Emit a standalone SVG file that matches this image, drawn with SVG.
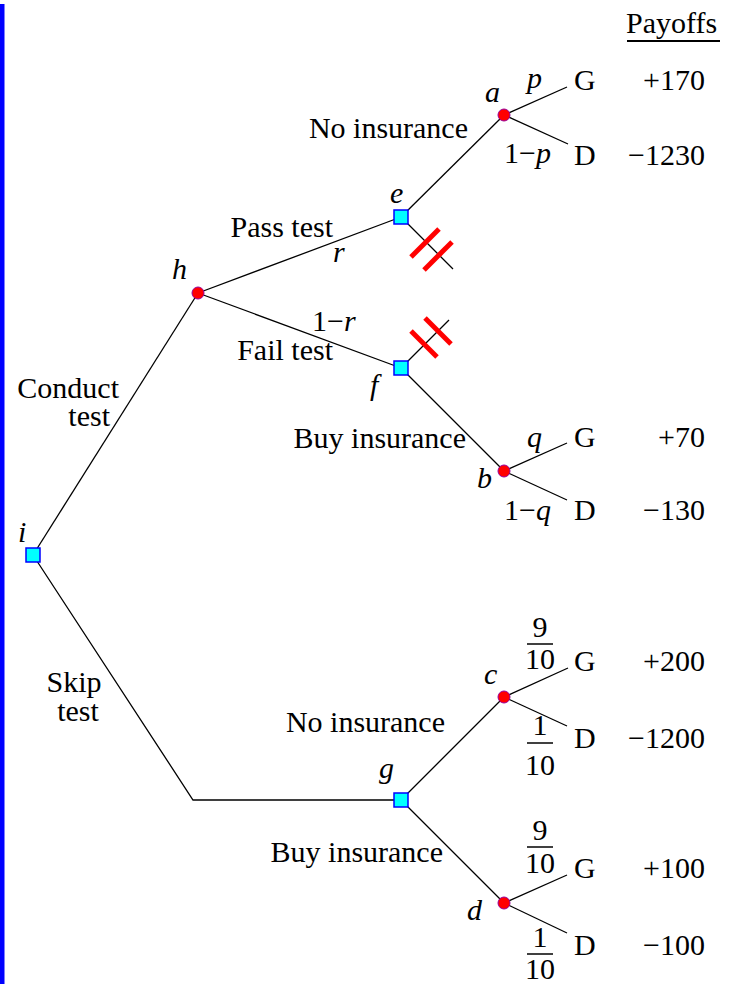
<svg xmlns="http://www.w3.org/2000/svg" width="729" height="984" viewBox="0 0 729 984">
<style>
text{font-family:"Liberation Serif","Times New Roman",serif;font-size:30px;fill:#000}
.it{font-style:italic}
.e{text-anchor:end}
.m{text-anchor:middle}
.ln{stroke:#000;stroke-width:1.3;fill:none}
.sq{fill:#00FFFF;stroke:#0000FF;stroke-width:1.5}
.ci{fill:#FF0000;stroke:#990099;stroke-width:1}
.cut{stroke:#FF0000;stroke-width:5;stroke-linecap:butt}
.fr{stroke:#000;stroke-width:1.5}
</style>
<rect width="729" height="984" fill="#fff"/>
<rect x="0" y="4" width="4.5" height="980" fill="#0000FF"/>
<g id="connectors">
<line class="ln" x1="33" y1="555" x2="198" y2="293"/>
<polyline class="ln" points="33,555 193,800 401,800"/>
<line class="ln" x1="198" y1="293" x2="401" y2="217"/>
<line class="ln" x1="198" y1="293" x2="401" y2="368"/>
<line class="ln" x1="401" y1="217" x2="504" y2="115"/>
<line class="ln" x1="401" y1="217" x2="453" y2="269"/>
<line class="ln" x1="401" y1="368" x2="449" y2="320"/>
<line class="ln" x1="401" y1="368" x2="504" y2="471"/>
<line class="ln" x1="401" y1="800" x2="504" y2="697"/>
<line class="ln" x1="401" y1="800" x2="504" y2="903"/>
<line class="ln" x1="504" y1="115" x2="567" y2="87"/>
<line class="ln" x1="504" y1="115" x2="568" y2="144"/>
<line class="ln" x1="504" y1="471" x2="567" y2="443"/>
<line class="ln" x1="504" y1="471" x2="567" y2="500"/>
<line class="ln" x1="504" y1="697" x2="568" y2="668"/>
<line class="ln" x1="504" y1="697" x2="567" y2="726"/>
<line class="ln" x1="504" y1="903" x2="567" y2="875"/>
<line class="ln" x1="504" y1="903" x2="567" y2="933"/>
<line class="cut" x1="411" y1="257" x2="439" y2="229"/>
<line class="cut" x1="424" y1="270" x2="452" y2="242"/>
<line class="cut" x1="411" y1="331" x2="437" y2="357"/>
<line class="cut" x1="425" y1="318" x2="451" y2="344"/>
</g>
<g id="node-i"><rect class="sq" x="26" y="548" width="14" height="14"/><text class="it" x="18" y="542">i</text></g>
<g id="node-h"><circle class="ci" cx="198" cy="293" r="6"/><text class="it" x="172" y="279">h</text></g>
<g id="node-e"><rect class="sq" x="394" y="210" width="14" height="14"/><text class="it" x="390" y="203">e</text></g>
<g id="node-f"><rect class="sq" x="394" y="361" width="14" height="14"/><text class="it" x="370" y="395">f</text></g>
<g id="node-g"><rect class="sq" x="394" y="793" width="14" height="14"/><text class="it" x="379" y="778">g</text></g>
<g id="node-a"><circle class="ci" cx="504" cy="115" r="6"/><text class="it" x="485" y="102">a</text></g>
<g id="node-b"><circle class="ci" cx="504" cy="471" r="6"/><text class="it" x="477" y="488">b</text></g>
<g id="node-c"><circle class="ci" cx="504" cy="697" r="6"/><text class="it" x="484" y="684">c</text></g>
<g id="node-d"><circle class="ci" cx="504" cy="903" r="6"/><text class="it" x="467" y="920">d</text></g>
<g id="labels">
<text x="626" y="33">Payoffs</text>
<line x1="627" y1="41" x2="720" y2="41" stroke="#000" stroke-width="2"/>
<text class="e" x="468" y="138">No insurance</text>
<text class="it" x="527" y="88">p</text>
<text x="504" y="163">1−<tspan class="it">p</tspan></text>
<text x="574" y="90">G</text>
<text x="574" y="165">D</text>
<text class="e" x="705" y="90">+170</text>
<text class="e" x="705" y="165">−1230</text>
<text class="e" x="333" y="237">Pass test</text>
<text class="it" x="333" y="262">r</text>
<text x="312" y="331">1−<tspan class="it">r</tspan></text>
<text class="e" x="333" y="360">Fail test</text>
<text class="e" x="119" y="398">Conduct</text>
<text class="e" x="110" y="426">test</text>
<text class="e" x="466" y="448">Buy insurance</text>
<text class="it" x="527" y="447">q</text>
<text x="504" y="520">1−<tspan class="it">q</tspan></text>
<text x="574" y="447">G</text>
<text x="574" y="520">D</text>
<text class="e" x="705" y="447">+70</text>
<text class="e" x="705" y="520">−130</text>
<text class="m" x="74" y="692">Skip</text>
<text class="m" x="78" y="721">test</text>
<text class="e" x="445" y="732">No insurance</text>
<text class="m" x="540" y="637">9</text>
<line class="fr" x1="527" y1="644" x2="553" y2="644"/>
<text class="m" x="540" y="669">10</text>
<text x="574" y="671">G</text>
<text class="e" x="705" y="671">+200</text>
<text class="m" x="540" y="735">1</text>
<line class="fr" x1="527" y1="743" x2="553" y2="743"/>
<text class="m" x="540" y="775">10</text>
<text x="574" y="748">D</text>
<text class="e" x="705" y="748">−1200</text>
<text class="e" x="443" y="862">Buy insurance</text>
<text class="m" x="540" y="840">9</text>
<line class="fr" x1="527" y1="847" x2="553" y2="847"/>
<text class="m" x="540" y="873">10</text>
<text x="574" y="878">G</text>
<text class="e" x="705" y="878">+100</text>
<text class="m" x="540" y="947">1</text>
<line class="fr" x1="527" y1="954" x2="553" y2="954"/>
<text class="m" x="540" y="979">10</text>
<text x="574" y="955">D</text>
<text class="e" x="705" y="955">−100</text>
</g>
</svg>
